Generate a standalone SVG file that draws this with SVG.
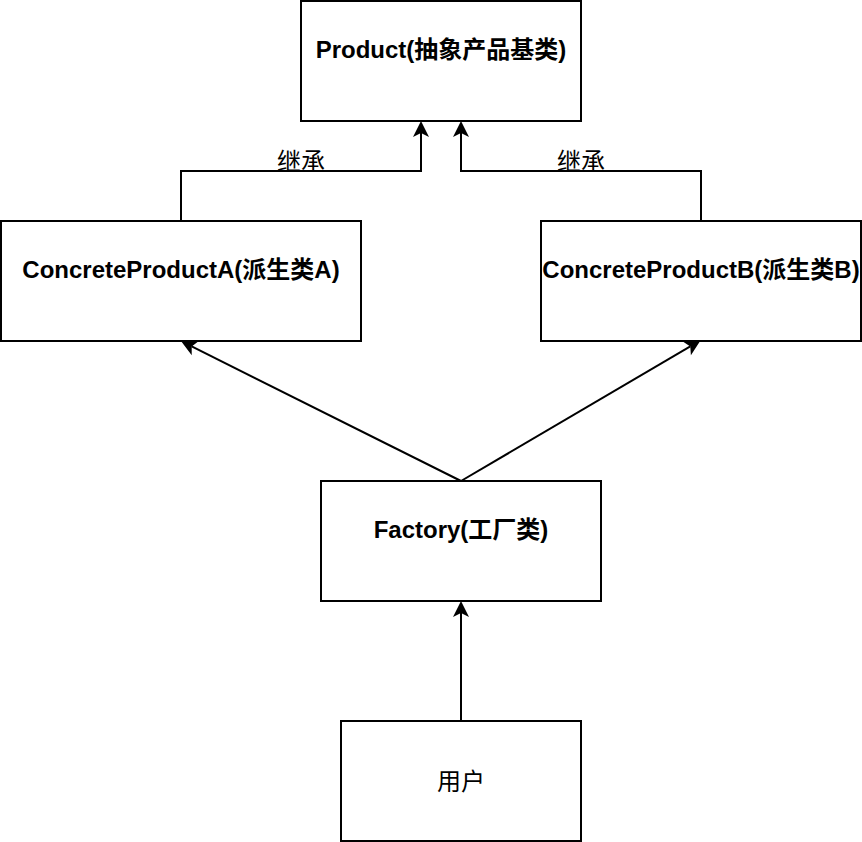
<svg xmlns="http://www.w3.org/2000/svg" width="862" height="842" viewBox="0 0 862 842">
<style>
.box{fill:#ffffff;stroke:#000000;stroke-width:2}
.title{font-family:"Liberation Sans","Noto Sans CJK SC",sans-serif;font-size:24px;font-weight:bold;fill:#000000;text-anchor:middle}
.plain{font-family:"Liberation Sans","Noto Sans CJK SC",sans-serif;font-size:24px;fill:#000000;text-anchor:middle;dominant-baseline:central}
.edge{fill:none;stroke:#000000;stroke-width:2}
</style>
<defs>
<marker id="arrow" viewBox="-17 -9 18 18" refX="-12" refY="0" markerWidth="18" markerHeight="18" markerUnits="userSpaceOnUse" orient="auto">
<path d="M0,0 L-16,-8 L-12,0 L-16,8 Z" fill="#000000"/>
</marker>
</defs>
<rect width="862" height="842" fill="#ffffff"/>
<g id="connectors">
<path class="edge" d="M181,221 L181,171 L421,171 L421,133" marker-end="url(#arrow)"/>
<path class="edge" d="M701,221 L701,171 L461,171 L461,133" marker-end="url(#arrow)"/>
<path class="edge" d="M461,481 L191.7,346.4" marker-end="url(#arrow)"/>
<path class="edge" d="M461,481 L690.3,346.4" marker-end="url(#arrow)"/>
<path class="edge" d="M461,721 L461,613" marker-end="url(#arrow)"/>
<text class="plain" x="301" y="161">继承</text>
<text class="plain" x="581" y="161">继承</text>
</g>
<g id="product">
<rect class="box" x="301" y="1" width="280" height="120"/>
<text class="title" x="441" y="58">Product(抽象产品基类)</text>
</g>
<g id="concreteA">
<rect class="box" x="1" y="221" width="360" height="120"/>
<text class="title" x="181" y="278">ConcreteProductA(派生类A)</text>
</g>
<g id="concreteB">
<rect class="box" x="541" y="221" width="320" height="120"/>
<text class="title" x="701" y="278">ConcreteProductB(派生类B)</text>
</g>
<g id="factory">
<rect class="box" x="321" y="481" width="280" height="120"/>
<text class="title" x="461" y="538">Factory(工厂类)</text>
</g>
<g id="user">
<rect class="box" x="341" y="721" width="240" height="120"/>
<text class="plain" x="461" y="781">用户</text>
</g>
</svg>
